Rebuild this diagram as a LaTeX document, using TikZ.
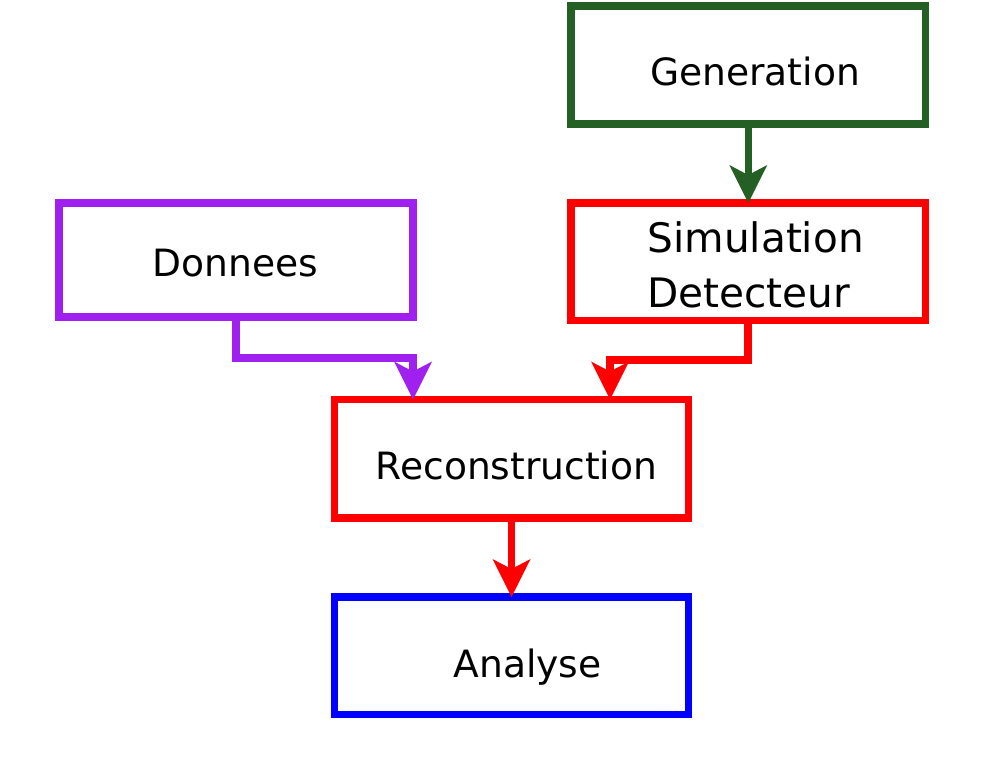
\documentclass[tikz,border=0pt]{standalone}
\usepackage{fontspec}
\setmainfont{DejaVu Sans}
\usetikzlibrary{arrows.meta}
\definecolor{gengreen}{RGB}{36,96,36}
\definecolor{donpurple}{RGB}{160,32,240}
\definecolor{recred}{RGB}{255,0,0}
\definecolor{anablue}{RGB}{0,0,255}
\tikzset{
  box/.style={draw, line width=7.5pt, minimum width=354.5pt, minimum height=118pt, inner sep=0pt, outer sep=0pt, fill=none},
  lbl/.style={inner sep=0pt, outer sep=0pt, anchor=base, font=\fontsize{37.6pt}{45pt}\selectfont},
  slbl/.style={inner sep=0pt, outer sep=0pt, anchor=base west, font=\fontsize{40.6pt}{48pt}\selectfont},
  conn/.style={line width=7.5pt, -{Stealth[length=38pt, width=38pt, inset=10pt, line width=0pt]}}
}
\begin{document}
\begin{tikzpicture}[x=1pt, y=-1pt]
  \useasboundingbox (0,0) rectangle (986,774);
  % boxes
  \node[box, draw=gengreen, minimum height=118pt] (gen) at (748.25,65) {};
  \node[box, draw=recred, minimum height=117.5pt] (sim) at (748.25,261.75) {};
  \node[box, draw=donpurple, minimum height=114pt, minimum width=354pt] (don) at (236,260) {};
  \node[box, draw=recred, minimum width=354pt, minimum height=118.5pt] (rec) at (511.5,458.75) {};
  \node[box, draw=anablue, minimum width=354pt, minimum height=117.5pt] (ana) at (511.5,655.75) {};
  % labels
  \node[lbl] (genT) at (755,85) {Generation};
  \node[slbl] (simT1) at (647.5,252.5) {Simulation};
  \node[slbl] (simT2) at (647.5,307) {Detecteur};
  \node[lbl] (donT) at (235.5,276) {Donnees};
  \node[lbl] (recT) at (516.5,479) {Reconstruction};
  \node[lbl] (anaT) at (527.5,677) {Analyse};
  % bend points
  \coordinate (dk) at (413,358);
  \coordinate (sk) at (610,360);
  % connectors
  \draw[conn, draw=gengreen] (gen.south) -- (sim.north);
  \draw[conn, draw=donpurple] (don.south) |- (dk) -- (dk |- rec.north);
  \draw[conn, draw=recred] (sim.south -| 748,0) |- (sk) -- (sk |- rec.north);
  \draw[conn, draw=recred] (rec.south) -- (ana.north);
\end{tikzpicture}
\end{document}
